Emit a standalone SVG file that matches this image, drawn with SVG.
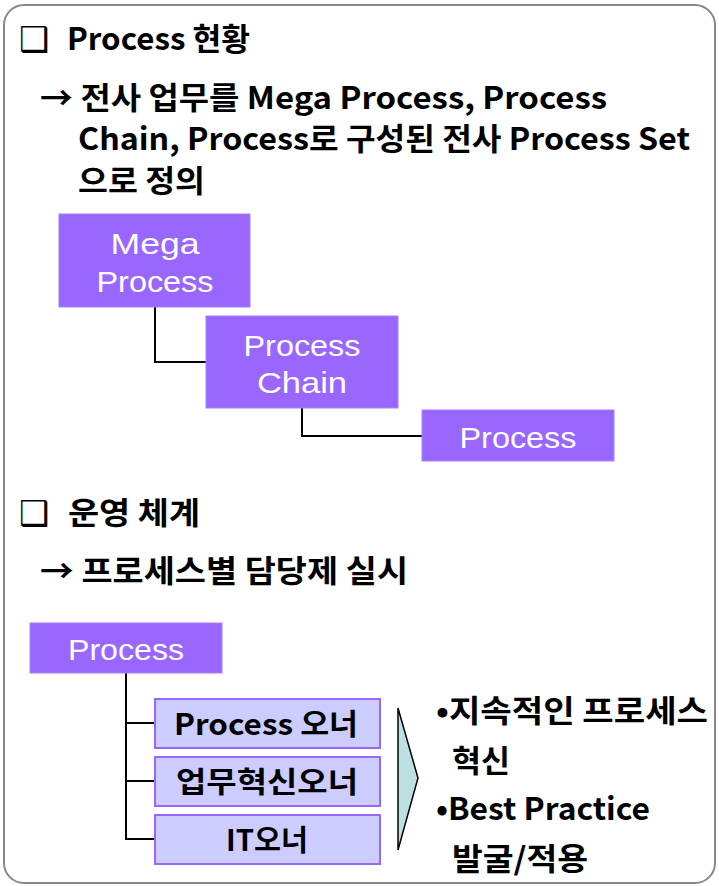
<svg xmlns="http://www.w3.org/2000/svg" width="719" height="886" viewBox="0 0 719 886">
<style>
.t{font-family:"Noto Sans CJK KR","Noto Sans",sans-serif;font-size:31px;font-weight:bold;fill:#000}
.w{font-family:"Liberation Sans",Arial,sans-serif;font-size:30px;fill:#fff;text-anchor:middle}
.o{font-family:"Noto Sans CJK KR","Noto Sans",sans-serif;font-size:29px;font-weight:bold;fill:#000;text-anchor:middle}
.sq{font-family:"DejaVu Sans",sans-serif;font-size:34px;fill:#000}
.pb{fill:#9966FF;stroke:#A880FF;stroke-width:1}
.ob{fill:#CCCCFF;stroke:#9966FF;stroke-width:2}
.ln{fill:none;stroke:#000;stroke-width:2}
</style>
<rect x="4" y="5" width="711" height="878" rx="20" ry="20" fill="#fff" stroke="#888" stroke-width="2"/>
<g id="heading1">
<text class="sq" x="19" y="51">❑</text>
<text class="t" x="67" y="50" textLength="183" lengthAdjust="spacingAndGlyphs">Process 현황</text>
</g>
<g id="desc1">
<text class="t" x="40" y="109" textLength="567" lengthAdjust="spacingAndGlyphs">→ 전사 업무를 Mega Process, Process</text>
<text class="t" x="78" y="150" textLength="612" lengthAdjust="spacingAndGlyphs">Chain, Process로 구성된 전사 Process Set</text>
<text class="t" x="78" y="192" textLength="127" lengthAdjust="spacingAndGlyphs">으로 정의</text>
</g>
<g id="connectors">
<polyline class="ln" points="155,307 155,362 206,362"/>
<polyline class="ln" points="302,408 302,436 422,436"/>
<polyline class="ln" points="126,673 126,839 155,839"/>
<line class="ln" x1="126" y1="723" x2="155" y2="723"/>
<line class="ln" x1="126" y1="781" x2="155" y2="781"/>
</g>
<g id="mega-process">
<rect class="pb" x="59" y="214" width="191" height="93"/>
<text class="w" x="155" y="254" textLength="89" lengthAdjust="spacingAndGlyphs">Mega</text>
<text class="w" x="155" y="292" textLength="117" lengthAdjust="spacingAndGlyphs">Process</text>
</g>
<g id="process-chain">
<rect class="pb" x="206" y="316" width="192" height="92"/>
<text class="w" x="302" y="356" textLength="117" lengthAdjust="spacingAndGlyphs">Process</text>
<text class="w" x="302" y="393" textLength="90" lengthAdjust="spacingAndGlyphs">Chain</text>
</g>
<g id="process-1">
<rect class="pb" x="422" y="410" width="192" height="51"/>
<text class="w" x="518" y="448" textLength="117" lengthAdjust="spacingAndGlyphs">Process</text>
</g>
<g id="heading2">
<text class="sq" x="19" y="525">❑</text>
<text class="t" x="68" y="524" textLength="132" lengthAdjust="spacingAndGlyphs">운영 체계</text>
</g>
<g id="desc2">
<text class="t" x="40" y="582" textLength="368" lengthAdjust="spacingAndGlyphs">→ 프로세스별 담당제 실시</text>
</g>
<g id="process-2">
<rect class="pb" x="30" y="623" width="192" height="50"/>
<text class="w" x="126" y="660" textLength="116" lengthAdjust="spacingAndGlyphs">Process</text>
</g>
<g id="owner-process">
<rect class="ob" x="155" y="699" width="225" height="49"/>
<text class="o" x="266" y="735" textLength="184" lengthAdjust="spacingAndGlyphs">Process 오너</text>
</g>
<g id="owner-biz">
<rect class="ob" x="155" y="757" width="225" height="49"/>
<text class="o" x="267" y="793" textLength="182" lengthAdjust="spacingAndGlyphs">업무혁신오너</text>
</g>
<g id="owner-it">
<rect class="ob" x="155" y="815" width="225" height="49"/>
<text class="o" x="267" y="851" textLength="82" lengthAdjust="spacingAndGlyphs">IT오너</text>
</g>
<g id="arrow">
<polygon points="398,708 418,778 398,850" fill="#BDE0E2" stroke="#000" stroke-width="1.5"/>
</g>
<g id="bullets">
<text class="t" x="436" y="722" textLength="272" lengthAdjust="spacingAndGlyphs">•지속적인 프로세스</text>
<text class="t" x="452" y="772" textLength="58" lengthAdjust="spacingAndGlyphs">혁신</text>
<text class="t" x="436" y="820" textLength="214" lengthAdjust="spacingAndGlyphs">•Best Practice</text>
<text class="t" x="452" y="870" textLength="136" lengthAdjust="spacingAndGlyphs">발굴/적용</text>
</g>
</svg>
